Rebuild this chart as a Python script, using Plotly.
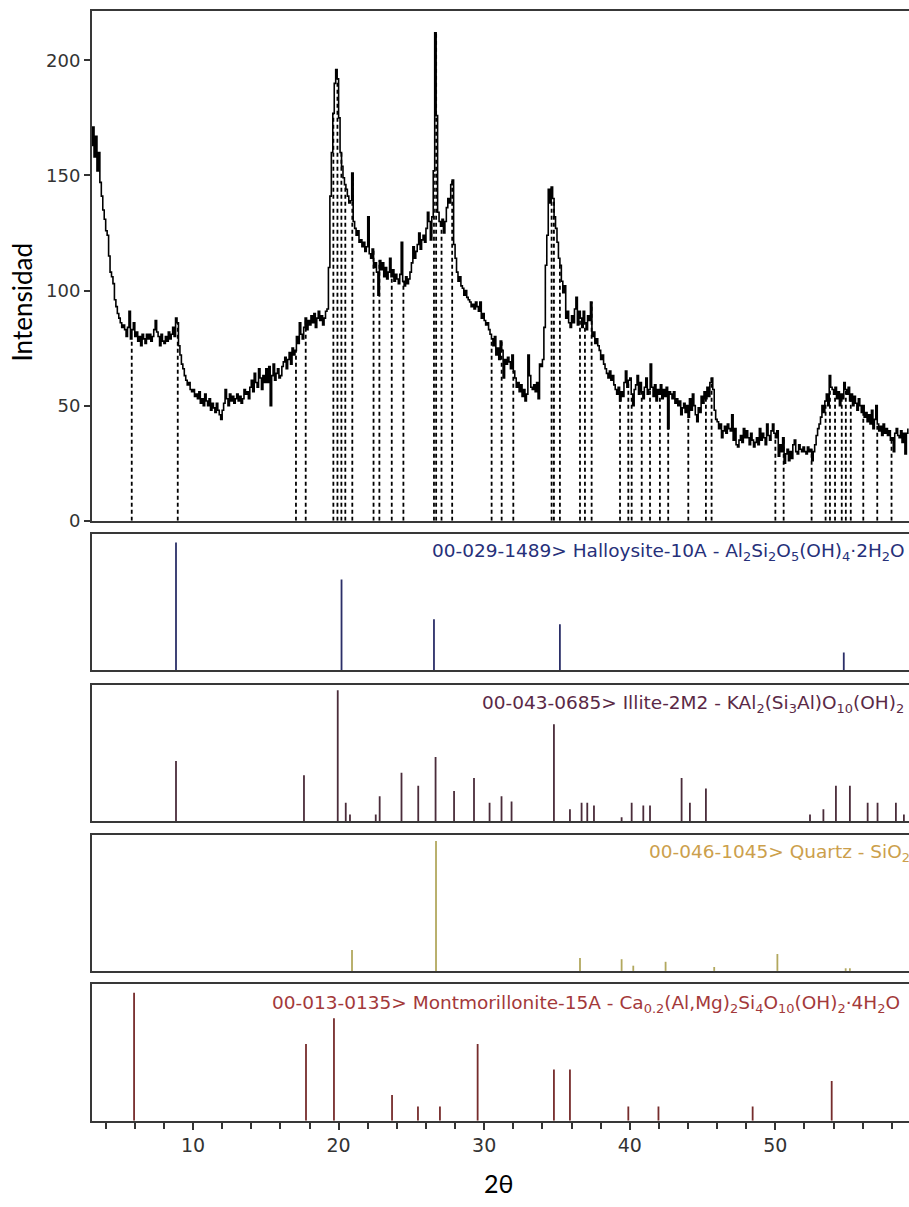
import numpy as np
import plotly.graph_objects as go

# ---------------- data ----------------
scan_start = 3.0      # first 2θ sample
scan_step = 0.1       # 2θ step of the scan
# measured intensity, one row per degree (3.0-3.9, 4.0-4.9, ...)
intensity_rows = [
    [163, 171, 158, 167, 152, 160, 147, 141, 135, 131],  # 3
    [126, 124, 115, 108, 106, 103, 96, 93, 90, 88],      # 4
    [86, 84, 85, 83, 80, 84, 91, 79, 83, 86],            # 5
    [80, 82, 78, 80, 76, 81, 79, 77, 81, 79],            # 6
    [81, 78, 80, 83, 87, 82, 80, 76, 81, 78],            # 7
    [77, 80, 78, 82, 79, 81, 84, 80, 88, 86],            # 8
    [76, 72, 68, 66, 63, 61, 59, 60, 57, 56],            # 9
    [57, 54, 55, 53, 56, 51, 53, 50, 55, 52],            # 10
    [50, 53, 48, 51, 49, 47, 51, 48, 46, 44],            # 11
    [48, 51, 57, 53, 50, 55, 52, 54, 51, 53],            # 12
    [55, 52, 54, 51, 53, 57, 55, 56, 53, 58],            # 13
    [61, 56, 64, 60, 58, 66, 62, 57, 63, 60],            # 14
    [66, 60, 67, 50, 63, 68, 61, 64, 66, 62],            # 15
    [63, 67, 69, 71, 66, 70, 73, 68, 75, 72],            # 16
    [74, 80, 77, 86, 81, 79, 84, 88, 83, 87],            # 17
    [85, 89, 86, 90, 84, 88, 91, 87, 89, 85],            # 18
    [88, 91, 92, 110, 141, 160, 177, 190, 196, 192],     # 19
    [175, 160, 154, 149, 146, 144, 141, 138, 139, 151],  # 20
    [130, 127, 124, 126, 121, 122, 119, 121, 117, 119],  # 21
    [132, 116, 114, 118, 110, 112, 108, 98, 113, 109],   # 22
    [112, 106, 110, 105, 108, 114, 106, 109, 104, 107],  # 23
    [105, 103, 107, 121, 104, 102, 106, 103, 105, 108],  # 24
    [112, 119, 114, 117, 120, 125, 118, 122, 124, 121],  # 25
    [127, 134, 130, 122, 132, 152, 212, 176, 134, 130],  # 26
    [128, 131, 125, 130, 136, 140, 138, 146, 148, 120],  # 27
    [114, 108, 104, 106, 102, 101, 98, 100, 97, 96],     # 28
    [95, 93, 94, 92, 95, 93, 91, 95, 88, 90],            # 29
    [87, 85, 86, 83, 81, 79, 76, 80, 72, 75],            # 30
    [70, 78, 74, 62, 70, 68, 71, 69, 66, 72],            # 31
    [65, 62, 58, 60, 56, 59, 54, 57, 52, 55],            # 32
    [72, 63, 58, 57, 59, 56, 60, 53, 68, 67],            # 33
    [70, 84, 111, 124, 144, 138, 145, 140, 132, 127],    # 34
    [121, 114, 111, 104, 99, 102, 88, 91, 86, 84],       # 35
    [89, 86, 92, 97, 85, 91, 88, 84, 91, 86],            # 36
    [83, 89, 87, 95, 80, 82, 77, 79, 76, 74],            # 37
    [70, 72, 68, 66, 64, 62, 65, 61, 63, 59],            # 38
    [57, 55, 58, 52, 56, 54, 60, 65, 58, 61],            # 39
    [62, 55, 50, 57, 59, 63, 55, 60, 56, 53],            # 40
    [58, 62, 55, 57, 68, 58, 54, 59, 52, 57],            # 41
    [55, 59, 53, 57, 54, 58, 40, 56, 55, 53],            # 42
    [56, 51, 53, 50, 52, 46, 49, 51, 47, 50],            # 43
    [45, 53, 48, 55, 50, 46, 43, 49, 47, 54],            # 44
    [51, 56, 53, 58, 54, 60, 62, 57, 48, 44],            # 45
    [43, 40, 42, 36, 39, 41, 38, 42, 40, 39],            # 46
    [46, 35, 40, 33, 32, 35, 37, 34, 40, 36],            # 47
    [39, 36, 33, 38, 35, 32, 34, 36, 33, 40],            # 48
    [35, 38, 36, 33, 42, 37, 35, 39, 42, 38],            # 49
    [36, 39, 28, 33, 30, 36, 25, 29, 31, 26],            # 50
    [30, 27, 33, 35, 30, 29, 33, 31, 30, 32],            # 51
    [30, 29, 32, 30, 31, 26, 30, 33, 37, 40],            # 52
    [42, 45, 50, 47, 52, 55, 50, 63, 58, 57],            # 53
    [55, 58, 53, 56, 50, 55, 53, 60, 57, 55],            # 54
    [58, 52, 55, 50, 54, 51, 48, 53, 50, 47],            # 55
    [50, 45, 47, 43, 46, 42, 48, 40, 44, 50],            # 56
    [42, 39, 41, 37, 42, 38, 40, 37, 39, 35],            # 57
    [36, 30, 38, 40, 37, 36, 39, 34, 38, 29],            # 58
    [38, 40],                                            # 59
]

# positions of the dashed peak markers in the top pattern
marker_positions = [5.79, 8.95, 17.07, 17.74, 19.64, 19.92, 20.19, 20.46, 20.94,
                    22.4, 22.8, 23.65, 24.45, 26.55, 26.7, 27.07, 27.8, 30.51,
                    31.2, 32.0, 34.63, 34.79, 35.2, 36.58, 36.92, 37.38, 39.33,
                    39.9, 40.13, 40.82, 41.39, 42.07, 42.64, 44.02, 45.23, 45.62,
                    50.0, 50.57, 52.49, 53.45, 53.75, 54.1, 54.56, 54.84, 55.18,
                    56.04, 57.0, 57.98]

# reference patterns (2θ, relative intensity)
halloysite_pos = [8.83, 20.2, 26.55, 35.2, 54.7]
halloysite_int = [100, 71, 40, 36, 14]

illite_pos = [8.83, 17.62, 19.94, 20.49, 20.78, 22.55, 22.82, 24.32, 25.47, 26.66,
              27.93, 29.3, 30.37, 31.19, 31.88, 34.79, 35.89, 36.69, 37.08, 37.54,
              39.44, 40.13, 40.93, 41.39, 43.56, 44.13, 45.23, 52.38, 53.3, 54.16,
              55.12, 56.34, 57.02, 58.28, 58.83]
illite_int = [46, 35, 100, 14, 5, 5, 19, 37, 27, 49,
              23, 33, 14, 19, 15, 74, 9, 14, 14, 12,
              3, 14, 12, 12, 33, 14, 25, 5, 9, 27,
              27, 14, 14, 14, 5]

quartz_pos = [20.92, 26.69, 36.58, 39.44, 40.24, 42.46, 45.8, 50.14, 54.83, 55.12]
quartz_int = [16, 100, 10, 9, 4, 7, 3, 13, 2, 2]

montmorillonite_pos = [5.95, 17.76, 19.68, 23.67, 25.45, 26.96, 29.55, 34.79, 35.89,
                       39.9, 41.97, 48.44, 53.87]
montmorillonite_int = [100, 60, 80, 20, 11, 11, 60, 40, 40, 11, 11, 11, 31]

phase_labels = [
    "00-029-1489> Halloysite-10A - Al<sub>2</sub>Si<sub>2</sub>O<sub>5</sub>(OH)<sub>4</sub>·2H<sub>2</sub>O",
    "00-043-0685> Illite-2M2 - KAl<sub>2</sub>(Si<sub>3</sub>Al)O<sub>10</sub>(OH)<sub>2</sub>",
    "00-046-1045> Quartz - SiO<sub>2</sub>",
    "00-013-0135> Montmorillonite-15A - Ca<sub>0.2</sub>(Al,Mg)<sub>2</sub>Si<sub>4</sub>O<sub>10</sub>(OH)<sub>2</sub>·4H<sub>2</sub>O",
]
x_ticks = [10, 20, 30, 40, 50]
y_ticks = [0, 50, 100, 150, 200]
y_title = "Intensidad"
x_title = "2θ"

# ---------------- figure ----------------
W, H = 909, 1207
intensity = np.array([v for row in intensity_rows for v in row], dtype=float)
two_theta = scan_start + scan_step * np.arange(len(intensity))

X_RANGE = [3.06, 59.18]
FRAME = "#383838"
TICKCOL = "#333333"


def ydom(top_px, bot_px):
    return [1 - bot_px / H, 1 - top_px / H]


panels = [  # (top px, bottom px, y max, stick colour, label colour, label x px, label y px)
    (538, 676, 107, "#2b2f68", "#26307a", 430, 557),
    (691, 828, 103.8, "#4a2c3a", "#5a2946", 480, 710),
    (842, 979, 104.6, "#b2a85e", "#cc9f4c", 647, 860),
    (992, 1130, 107, "#762c2c", "#a3393a", 270, 1012),
]
stick_sets = [(halloysite_pos, halloysite_int), (illite_pos, illite_int),
              (quartz_pos, quartz_int), (montmorillonite_pos, montmorillonite_int)]

fig = go.Figure()

# main diffractogram
fig.add_trace(go.Scatter(x=two_theta, y=intensity, mode="lines",
                         line=dict(color="black", width=1.6, shape="hv"),
                         xaxis="x", yaxis="y", showlegend=False, hoverinfo="skip"))

# dashed markers from 0 up to the curve
idx = np.clip(np.searchsorted(two_theta, marker_positions, side="right") - 1, 0, len(intensity) - 1)
mx, my = [], []
for p, i in zip(marker_positions, idx):
    mx += [p, p, None]
    my += [0, intensity[i], None]
fig.add_trace(go.Scatter(x=mx, y=my, mode="lines",
                         line=dict(color="black", width=1.8, dash="4px,3px"),
                         xaxis="x", yaxis="y", showlegend=False, hoverinfo="skip"))

# reference stick panels
for k, ((pos, inten), pan) in enumerate(zip(stick_sets, panels)):
    sx, sy = [], []
    for p, v in zip(pos, inten):
        sx += [p, p, None]
        sy += [0, v, None]
    ax = str(k + 2)
    fig.add_trace(go.Scatter(x=sx, y=sy, mode="lines",
                             line=dict(color=pan[3], width=1.8),
                             xaxis="x" + ax, yaxis="y" + ax, showlegend=False, hoverinfo="skip"))

layout = dict(
    width=W, height=H, margin=dict(l=0, r=0, t=0, b=0),
    paper_bgcolor="white", plot_bgcolor="white", showlegend=False,
)

common_x = dict(range=X_RANGE, showline=True, mirror=True, linecolor=FRAME, linewidth=2,
                showgrid=False, zeroline=False, domain=[92 / W, 1.0])
layout["xaxis"] = dict(common_x, anchor="y", showticklabels=False, ticks="")
layout["yaxis"] = dict(domain=ydom(11, 525), range=[0, 221.5], anchor="x",
                       showline=True, linecolor=FRAME, linewidth=2, showgrid=False,
                       zeroline=False, ticks="outside", ticklen=6, tickwidth=1.5,
                       tickcolor=TICKCOL, tickvals=y_ticks,
                       tickfont=dict(family="DejaVu Sans", size=18, color=TICKCOL))

for k, pan in enumerate(panels):
    ax = str(k + 2)
    xa = dict(common_x, anchor="y" + ax, matches="x")
    if k == len(panels) - 1:
        xa.update(ticks="outside", tickvals=x_ticks, ticklen=7, tickwidth=1.5,
                  tickcolor=TICKCOL, showticklabels=True,
                  tickfont=dict(family="DejaVu Sans", size=19, color=TICKCOL),
                  minor=dict(dtick=2, tick0=0, ticks="outside", ticklen=6,
                             tickwidth=1.5, tickcolor=TICKCOL))
    else:
        xa.update(showticklabels=False, ticks="")
    layout["xaxis" + ax] = xa
    layout["yaxis" + ax] = dict(domain=ydom(pan[0], pan[1]), range=[0, pan[2]],
                                anchor="x" + ax, showline=True, linecolor=FRAME,
                                linewidth=2, showgrid=False, zeroline=False,
                                showticklabels=False, ticks="")

annotations = []
for lab, pan in zip(phase_labels, panels):
    annotations.append(dict(text=lab, xref="paper", yref="paper",
                            x=pan[5] / W, y=1 - pan[6] / H, xanchor="left", yanchor="middle",
                            showarrow=False,
                            font=dict(family="DejaVu Sans", size=18.5, color=pan[4])))
annotations.append(dict(text=y_title, xref="paper", yref="paper", x=22 / W, y=1 - 305 / H,
                        xanchor="center", yanchor="middle", textangle=-90, showarrow=False,
                        font=dict(family="Lato", size=26, color="black")))
annotations.append(dict(text=x_title, xref="paper", yref="paper", x=499 / W, y=1 - 1193 / H,
                        xanchor="center", yanchor="middle", showarrow=False,
                        font=dict(family="Lato", size=25, color="black")))
layout["annotations"] = annotations

fig.update_layout(**layout)
fig.write_html("out.html", config={"displayModeBar": False},
               post_script="document.body.style.margin='0';document.body.style.overflow='hidden';")
